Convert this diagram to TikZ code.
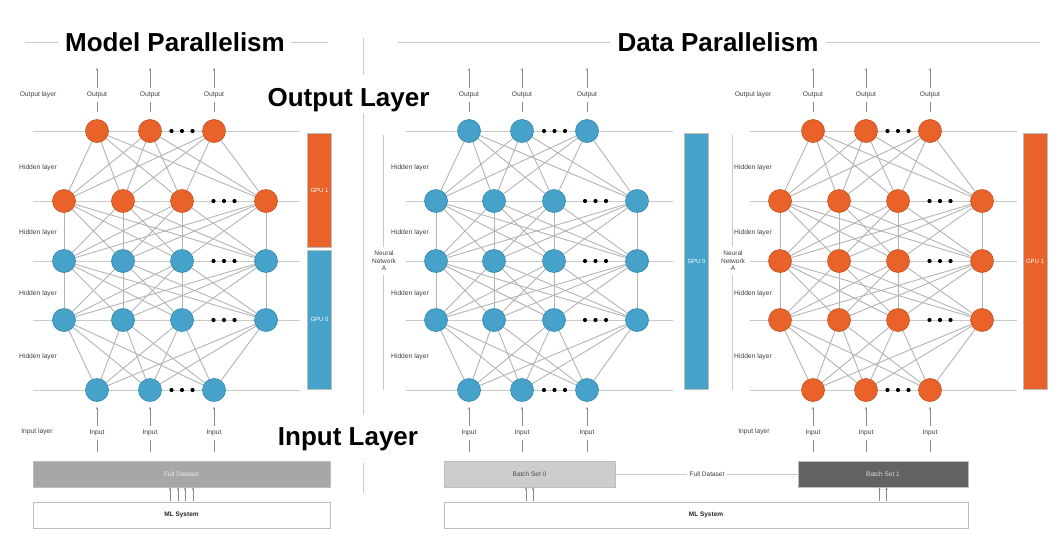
\documentclass[tikz,border=0pt]{standalone}
\usepackage{fontspec}
\setmainfont{Liberation Sans}
\usetikzlibrary{arrows.meta}
\definecolor{nnorange}{HTML}{E8622A}
\definecolor{nnorangeD}{HTML}{C4511E}
\definecolor{nnblue}{HTML}{46A2C9}
\definecolor{nnblueD}{HTML}{2F86AC}
\definecolor{edgegray}{HTML}{B4B4B4}
\definecolor{layergray}{HTML}{C9C9C9}
\definecolor{labgray}{HTML}{404040}
\definecolor{iogray}{HTML}{8A8A8A}
\definecolor{boxborder}{HTML}{BDBDBD}
\definecolor{fullgray}{HTML}{A7A7A7}
\definecolor{batchlight}{HTML}{CDCDCD}
\definecolor{batchdark}{HTML}{636363}
\tikzset{
  neuron/.style={circle, minimum size=23pt, inner sep=0pt, line width=0.6pt},
  oneuron/.style={neuron, fill=nnorange, draw=nnorangeD},
  bneuron/.style={neuron, fill=nnblue, draw=nnblueD},
  M0/.style=oneuron, M1/.style=oneuron, M2/.style=bneuron, M3/.style=bneuron, M4/.style=bneuron,
  A0/.style=bneuron, A1/.style=bneuron, A2/.style=bneuron, A3/.style=bneuron, A4/.style=bneuron,
  B0/.style=oneuron, B1/.style=oneuron, B2/.style=oneuron, B3/.style=oneuron, B4/.style=oneuron,
  conn/.style={draw=edgegray, line width=0.9pt},
  layerline/.style={draw=layergray, line width=0.9pt},
  ruleline/.style={draw=layergray, line width=0.9pt},
  smalllab/.style={font=\fontsize{6.7}{8}\selectfont, text=labgray, inner sep=2pt},
  iolab/.style={smalllab, inner xsep=1pt, inner ysep=4pt},
  ioline/.style={draw=iogray, line width=0.6pt},
  ioarrow/.style={ioline, -{Stealth[length=2.8pt,width=2.4pt]}},
  ellipsisdot/.style={circle, fill=black, inner sep=0pt, minimum size=4.2pt},
  gpubar/.style={rectangle, draw=boxborder, line width=0.5pt, text=white, inner sep=0pt, minimum width=24pt, font=\fontsize{6}{7}\selectfont},
  bigtitle/.style={font=\fontsize{26}{30}\selectfont\bfseries, text=black, inner sep=0pt, anchor=base},
  databox/.style={rectangle, draw=boxborder, line width=0.6pt, minimum height=26pt, inner sep=0pt, font=\fontsize{6.5}{8}\selectfont},
}
% #1 prefix, #2-#4 x of 3-node rows, #5-#8 x of 4-node rows, #9 layer line start
\newcommand\nnpanel[9]{%
  \foreach \r/\yy in {0/131,1/201,2/261,3/320,4/390}{
    \coordinate (#1-ll-\r) at (#9,\yy);
    \coordinate (#1-lr-\r) at ({#9+267},\yy);
    \draw[layerline] (#1-ll-\r) -- (#1-lr-\r);
  }
  \foreach \r/\yy in {0/131,4/390}{
    \node[#1\r] (#1-\r-1) at (#2,\yy) {};
    \node[#1\r] (#1-\r-2) at (#3,\yy) {};
    \node[#1\r] (#1-\r-3) at (#4,\yy) {};
    \node[ellipsisdot] (#1-\r-da) at ({(#3+#4)/2-10.5},\yy) {};
    \node[ellipsisdot] (#1-\r-db) at ({(#3+#4)/2},\yy) {};
    \node[ellipsisdot] (#1-\r-dc) at ({(#3+#4)/2+10.5},\yy) {};
  }
  \foreach \r/\yy in {1/201,2/261,3/320}{
    \node[#1\r] (#1-\r-1) at (#5,\yy) {};
    \node[#1\r] (#1-\r-2) at (#6,\yy) {};
    \node[#1\r] (#1-\r-3) at (#7,\yy) {};
    \node[#1\r] (#1-\r-4) at (#8,\yy) {};
    \node[ellipsisdot] (#1-\r-da) at ({(#7+#8)/2-10.5},\yy) {};
    \node[ellipsisdot] (#1-\r-db) at ({(#7+#8)/2},\yy) {};
    \node[ellipsisdot] (#1-\r-dc) at ({(#7+#8)/2+10.5},\yy) {};
  }
  \foreach \k in {1,2,3}{\foreach \j in {1,2,3,4}{
    \draw[conn] (#1-0-\k) -- (#1-1-\j);
    \draw[conn] (#1-4-\k) -- (#1-3-\j);
  }}
  \foreach \k in {1,2,3,4}{\foreach \j in {1,2,3,4}{
    \draw[conn] (#1-1-\k) -- (#1-2-\j);
    \draw[conn] (#1-2-\k) -- (#1-3-\j);
  }}
  \foreach \k/\xx in {1/#2,2/#3,3/#4}{
    \node[iolab] (#1-out-\k) at (\xx,95) {Output};
    \coordinate (#1-outtop-\k) at (\xx,68);
    \draw[ioline, shorten <=7pt] (#1-0-\k) -- (#1-out-\k);
    \draw[ioarrow] (#1-out-\k) -- (#1-outtop-\k);
    \node[iolab] (#1-in-\k) at (\xx,433) {Input};
    \coordinate (#1-inbot-\k) at (\xx,452);
    \draw[ioarrow, shorten >=5pt] (#1-in-\k) -- (#1-4-\k);
    \draw[ioline] (#1-inbot-\k) -- (#1-in-\k);
  }
}
\begin{document}
\begin{tikzpicture}[x=1pt,y=-1pt]
\useasboundingbox (0,0) rectangle (1064,544);
\fill[white] (0,0) rectangle (1064,544);

% titles
\node[bigtitle] (tM) at (175,51) {Model Parallelism};
\coordinate (tMl1) at (25,42.5); \coordinate (tMl2) at (58,42.5);
\coordinate (tMr1) at (291,42.5); \coordinate (tMr2) at (328,42.5);
\draw[ruleline] (tMl1) -- (tMl2);
\draw[ruleline] (tMr1) -- (tMr2);
\node[bigtitle] (tD) at (718,51) {Data Parallelism};
\coordinate (tDl1) at (398,42.5); \coordinate (tDl2) at (610,42.5);
\coordinate (tDr1) at (826,42.5); \coordinate (tDr2) at (1040,42.5);
\draw[ruleline] (tDl1) -- (tDl2);
\draw[ruleline] (tDr1) -- (tDr2);

\node[bigtitle] (bigOut) at (348.5,106) {Output Layer};
\node[bigtitle] (bigIn) at (348,445) {Input Layer};

% separator
\coordinate (s1) at (363,38); \coordinate (s2) at (363,75);
\coordinate (s3) at (363,113); \coordinate (s4) at (363,415);
\coordinate (s5) at (363,463); \coordinate (s6) at (363,493);
\draw[ruleline] (s1) -- (s2);
\draw[ruleline] (s3) -- (s4);
\draw[ruleline] (s5) -- (s6);

% networks
\nnpanel{M}{97}{150}{214}{64}{123}{182}{266}{33}
\nnpanel{A}{469}{522}{587}{436}{494}{554}{637}{406}
\nnpanel{B}{813}{866}{930}{780}{839}{898}{982}{750}

% small side labels
\node[smalllab] (labMout) at (38,95) {Output layer};
\foreach \i/\yy in {1/168,2/233,3/294,4/357}{
  \node[smalllab] (labMh\i) at (38,\yy) {Hidden layer};
  \node[smalllab] (labAh\i) at (410,\yy) {Hidden layer};
  \node[smalllab] (labBh\i) at (753,\yy) {Hidden layer};
}
\node[smalllab] (labMin) at (37,432) {Input layer};
\node[smalllab] (labBout) at (753,95) {Output layer};
\node[smalllab] (labBin) at (754,432) {Input layer};

% neural network labels + vertical brackets
\node[smalllab, align=center, inner ysep=4pt, font=\fontsize{6.5}{7.6}\selectfont] (nnA) at (384,261) {Neural\\Network\\A};
\node[smalllab, align=center, inner ysep=4pt, font=\fontsize{6.5}{7.6}\selectfont] (nnB) at (733,261) {Neural\\Network\\A};
\coordinate (vAt) at (383,135); \coordinate (vAb) at (383,390);
\coordinate (vBt) at (732,135); \coordinate (vBb) at (732,390);
\draw[ruleline] (vAt) -- (vAt |- nnA.north);
\draw[ruleline] (vAb |- nnA.south) -- (vAb);
\draw[ruleline] (vBt) -- (vBt |- nnB.north);
\draw[ruleline] (vBb |- nnB.south) -- (vBb);

% GPU bars
\node[gpubar, fill=nnorange, minimum height=114pt] (gpuM1) at (319.5,190) {GPU 1};
\node[gpubar, fill=nnblue, minimum height=139pt] (gpuM0) at (319.5,319.5) {GPU 0};
\node[gpubar, fill=nnblue, minimum height=256pt] (gpuA0) at (696.5,261) {GPU 0};
\node[gpubar, fill=nnorange, minimum height=256pt] (gpuB1) at (1035,261) {GPU 1};

% data boxes - model parallelism
\node[databox, fill=fullgray, text=white!92!black, minimum width=297pt] (fdM) at (181.5,474) {Full Dataset};
\node[databox, fill=white, text=black!85, minimum width=297pt, font=\fontsize{6.5}{8}\selectfont\bfseries] (mlM) at (181.5,515) {ML System};
\foreach \dx in {-11.5,-3.5,3.5,11.5}{
  \draw[ioarrow, shorten <=1pt] ([xshift=\dx pt]mlM.north) -- ([xshift=\dx pt]fdM.south);
}

% data boxes - data parallelism
\node[databox, fill=batchlight, text=black!70, minimum width=171pt] (bs0) at (529.5,474) {Batch Set 0};
\node[databox, fill=batchdark, text=white!85!black, minimum width=170pt] (bs1) at (883,474) {Batch Set 1};
\node[smalllab, font=\fontsize{6.5}{8}\selectfont] (fdD) at (707,474) {Full Dataset};
\draw[layerline] (bs0.east) -- (bs0.east -| fdD.west);
\draw[layerline] (bs1.west -| fdD.east) -- (bs1.west);
\node[databox, fill=white, text=black!85, minimum width=524pt, font=\fontsize{6.5}{8}\selectfont\bfseries] (mlD) at (706,515) {ML System};
\foreach \dx/\nm in {-3.5/a,3.5/b}{
  \coordinate (bs0t\nm) at ([xshift=\dx pt]bs0.south);
  \coordinate (bs1t\nm) at ([xshift=\dx pt]bs1.south);
  \draw[ioarrow, shorten <=1pt] (mlD.north -| bs0t\nm) -- (bs0t\nm);
  \draw[ioarrow, shorten <=1pt] (mlD.north -| bs1t\nm) -- (bs1t\nm);
}
\end{tikzpicture}
\end{document}
